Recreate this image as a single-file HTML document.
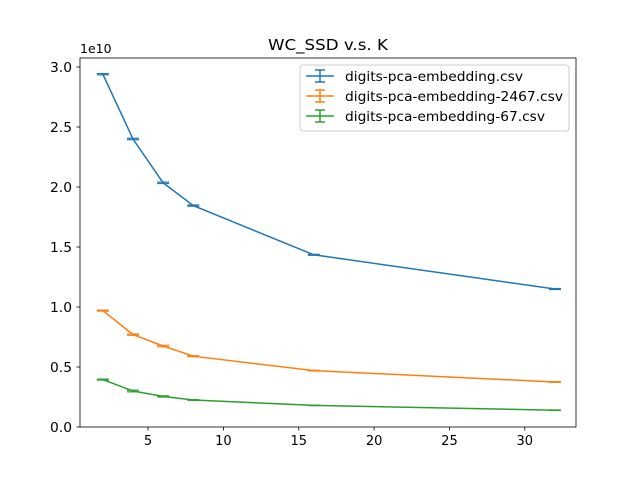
<!DOCTYPE html>
<html><head><meta charset="utf-8"><style>
body{margin:0;background:#fff}
svg{font-family:"DejaVu Sans","Liberation Sans",sans-serif}
</style></head><body>
<svg id="chart" width="640" height="480">
<rect width="640" height="480" fill="#fff"/>
<text x="328" y="50" font-size="15" text-anchor="middle" textLength="120" lengthAdjust="spacingAndGlyphs">WC_SSD v.s. K</text>
<text x="80" y="53" font-size="12.5">1e10</text>
<g id="axes"></g>
<g id="series"></g>
<rect x="80" y="58" width="496" height="369" fill="none" stroke="#000" stroke-width="0.8"/>
<g id="legend"></g>
</svg>
<script>
const kValues=[2,4,6,8,16,32];
const seriesNames=["digits-pca-embedding.csv","digits-pca-embedding-2467.csv","digits-pca-embedding-67.csv"];
const blueValues=[2.94,2.40,2.035,1.845,1.435,1.15];
const orangeValues=[0.97,0.77,0.675,0.59,0.47,0.375];
const greenValues=[0.395,0.30,0.255,0.225,0.18,0.14];
const blueErr=[0.005,0.006,0.006,0.005,0.004,0.004];
const orangeErr=[0.004,0.006,0.006,0.004,0.003,0.003];
const greenErr=[0.004,0.007,0.005,0.003,0.002,0.002];
const xTicks=[5,10,15,20,25,30];
const yTicks=[0,0.5,1.0,1.5,2.0,2.5,3.0];
const colors=["#1f77b4","#ff7f0e","#2ca02c"];
const NS="http://www.w3.org/2000/svg";
const X=v=>72.7+v*15.07;
const Y=v=>427-v*120;
function mk(tag,attrs,parent){const e=document.createElementNS(NS,tag);for(const k in attrs)e.setAttribute(k,attrs[k]);parent.appendChild(e);return e;}
const axes=document.getElementById('axes');
xTicks.forEach(t=>{
  const l=mk('line',{x1:X(t),x2:X(t),y1:427,y2:430.5,stroke:'#000','stroke-width':0.8},axes);
  
  
  const tx=mk('text',{x:X(t),y:445,'font-size':13,'text-anchor':'middle'},axes);tx.textContent=t;
  
  
});
yTicks.forEach(t=>{
  const l=mk('line',{x1:76.5,x2:80,y1:Y(t),y2:Y(t),stroke:'#000','stroke-width':0.8},axes);
  
  
  const tx=mk('text',{x:72,y:Y(t)+5,'font-size':13,'text-anchor':'end',textLength:22,lengthAdjust:'spacingAndGlyphs'},axes);tx.textContent=t.toFixed(1);
  
  
});
const sg=document.getElementById('series');
[[blueValues,blueErr],[orangeValues,orangeErr],[greenValues,greenErr]].forEach(([vals,errs],i)=>{
  const p=mk('polyline',{points:kValues.map((k,j)=>X(k)+','+Y(vals[j])).join(' '),fill:'none',stroke:colors[i],'stroke-width':1.5},sg);
  
  
  kValues.forEach((k,j)=>{
    const g=mk('g',{stroke:colors[i],'stroke-width':1.2},sg);
    
    
    const x=X(k),y1=Y(vals[j]-errs[j]),y2=Y(vals[j]+errs[j]);
    mk('line',{x1:x,x2:x,y1:y1,y2:y2},g);
    mk('line',{x1:x-6,x2:x+6,y1:y1,y2:y1},g);
    mk('line',{x1:x-6,x2:x+6,y1:y2,y2:y2},g);
  });
});
const lg=document.getElementById('legend');
const box=mk('rect',{x:300,y:65,width:269,height:66,rx:3,fill:'#fff','fill-opacity':0.8,stroke:'#ccc'},lg);


const legendLens=[178,218,200];
seriesNames.forEach((n,i)=>{
  const y=76+i*20;
  const g=mk('g',{},lg);
  
  
  mk('line',{x1:306,x2:334,y1:y,y2:y,stroke:colors[i],'stroke-width':1.5},g);
  mk('line',{x1:320,x2:320,y1:y-6,y2:y+6,stroke:colors[i],'stroke-width':1.5},g);
  mk('line',{x1:315,x2:325,y1:y-6,y2:y-6,stroke:colors[i],'stroke-width':1.5},g);
  mk('line',{x1:315,x2:325,y1:y+6,y2:y+6,stroke:colors[i],'stroke-width':1.5},g);
  const t=mk('text',{x:345,y:y+5,'font-size':13.5,textLength:legendLens[i],lengthAdjust:'spacingAndGlyphs'},g);t.textContent=n;
});
</script>
</body></html>
